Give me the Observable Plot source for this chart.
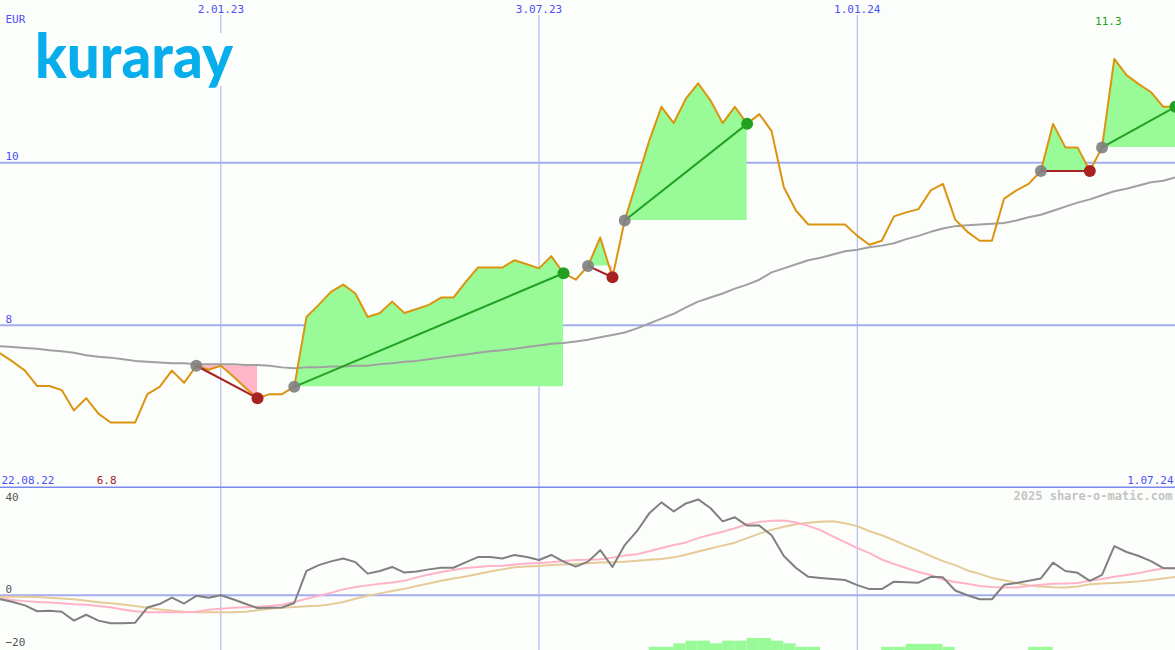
<!DOCTYPE html>
<html>
<head>
<meta charset="utf-8">
<script src="https://cdn.jsdelivr.net/npm/d3@7"></script>
<script src="https://cdn.jsdelivr.net/npm/@observablehq/plot@0.6"></script>
<style>
  html, body { margin: 0; padding: 0; background: #fbfefb; }
  #wrap { position: relative; width: 1175px; height: 650px; overflow: hidden; background: #fbfefb; }
  #wrap svg { display: block; }
  #logo { position: absolute; left: 31px; top: 33px; width: 205px; height: 53px; background: #fdfffd; }
  #logo svg { overflow: visible; }
</style>
</head>
<body>
<div id="wrap">
  <div id="charts"></div>
  <div id="logo"><svg width="205" height="53"><text x="4" y="45" textLength="198" lengthAdjust="spacingAndGlyphs" font-family="Lato, 'Open Sans', sans-serif" font-weight="900" font-size="60" fill="#08aeec">kuraray</text></svg></div>
</div>
<script>
// ---------- data (weekly, Mondays) ----------
const startDate = "2022-08-29";
const endDate = "2024-07-01";
const firstLabel = "22.08.22";
const lastLabel = "1.07.24";
const currency = "EUR";
const watermark = "2025 share-o-matic.com";

const price = [
  7.65, 7.55, 7.44, 7.25, 7.25, 7.20, 6.95, 7.10, 6.91, 6.80,
  6.80, 6.80, 7.15, 7.24, 7.44, 7.29, 7.50, 7.45, 7.50, 7.37,
  7.23, 7.10, 7.15, 7.15, 7.24, 8.10, 8.25, 8.41, 8.50, 8.39,
  8.10, 8.15, 8.29, 8.15, 8.20, 8.25, 8.34, 8.34, 8.53, 8.71,
  8.71, 8.71, 8.80, 8.75, 8.70, 8.85, 8.64, 8.56, 8.73, 9.08,
  8.59, 9.29, 9.78, 10.27, 10.69, 10.49, 10.79, 10.98, 10.77, 10.49,
  10.69, 10.48, 10.60, 10.39, 9.70, 9.41, 9.24, 9.24, 9.24, 9.24,
  9.10, 8.99, 9.04, 9.34, 9.39, 9.43, 9.66, 9.74, 9.30, 9.15,
  9.04, 9.04, 9.56, 9.66, 9.74, 9.90, 10.48, 10.19, 10.19, 9.90,
  10.19, 11.28, 11.08, 10.97, 10.87, 10.69, 10.69
];

const movingAvg = [
  7.74, 7.73, 7.72, 7.71, 7.69, 7.68, 7.66, 7.63, 7.61, 7.60,
  7.58, 7.56, 7.55, 7.54, 7.53, 7.53, 7.52, 7.52, 7.52, 7.52,
  7.51, 7.51, 7.50, 7.48, 7.47, 7.48, 7.48, 7.49, 7.49, 7.50,
  7.50, 7.52, 7.53, 7.55, 7.56, 7.58, 7.60, 7.62, 7.64, 7.66,
  7.68, 7.69, 7.71, 7.73, 7.75, 7.77, 7.78, 7.80, 7.82, 7.85,
  7.88, 7.91, 7.96, 8.02, 8.08, 8.14, 8.22, 8.29, 8.34, 8.39,
  8.45, 8.50, 8.56, 8.65, 8.70, 8.75, 8.80, 8.83, 8.87, 8.91,
  8.93, 8.96, 8.98, 9.01, 9.06, 9.10, 9.15, 9.19, 9.22, 9.23,
  9.24, 9.25, 9.26, 9.29, 9.33, 9.36, 9.41, 9.46, 9.51, 9.55,
  9.60, 9.65, 9.68, 9.72, 9.76, 9.78, 9.82
];

const oscillator = [
  -1.5, -2.5, -3.8, -6.0, -5.8, -6.2, -9.5, -7.3, -9.5, -10.5,
  -10.5, -10.3, -4.6, -3.3, -0.9, -3.1, -0.2, -0.9, 0.0, -1.5,
  -3.2, -4.8, -4.7, -4.6, -2.9, 9.1, 11.3, 12.7, 13.8, 12.4,
  8.1, 9.1, 10.6, 8.5, 8.9, 9.7, 10.3, 10.3, 12.3, 14.3,
  14.3, 13.8, 15.1, 14.3, 13.2, 15.1, 12.6, 10.7, 12.6, 16.9,
  10.6, 18.8, 24.0, 30.7, 34.8, 31.4, 34.4, 35.9, 32.7, 27.7,
  29.2, 26.1, 26.1, 22.5, 14.7, 10.2, 6.9, 6.5, 6.1, 5.7,
  3.8, 2.3, 2.3, 5.1, 4.9, 4.7, 6.9, 6.7, 1.8, 0.0,
  -1.5, -1.5, 3.9, 4.6, 5.4, 6.3, 12.2, 9.1, 8.4, 5.4,
  7.6, 18.4, 16.2, 14.7, 12.8, 10.2, 10.1
];

const oscFast = [
  -1.3, -1.8, -2.2, -2.5, -2.7, -3.0, -3.4, -3.6, -4.0, -4.5,
  -5.3, -6.0, -6.4, -6.4, -6.4, -6.4, -6.2, -5.4, -5.1, -4.7,
  -4.5, -4.3, -4.0, -3.6, -2.5, -1.3, -0.2, 0.9, 2.2, 3.1,
  3.7, 4.3, 4.8, 5.4, 6.7, 7.8, 8.7, 9.5, 10.2, 10.6,
  11.0, 11.1, 11.5, 11.9, 12.1, 12.4, 12.8, 13.2, 13.3, 13.5,
  14.1, 14.9, 15.4, 16.5, 17.7, 18.8, 19.8, 21.4, 22.7, 23.8,
  25.1, 26.6, 27.5, 27.9, 28.0, 27.3, 26.0, 24.4, 22.1, 19.9,
  17.7, 15.8, 13.4, 11.7, 10.2, 8.7, 7.6, 5.9, 5.0, 4.3,
  3.5, 3.1, 2.9, 2.9, 3.5, 3.9, 4.3, 4.4, 4.6, 5.4,
  6.1, 6.9, 7.6, 8.3, 9.3, 10.0, 10.1
];

const oscSlow = [
  -0.6, -0.6, -0.6, -0.7, -0.9, -1.2, -1.5, -2.1, -2.6, -3.0,
  -3.5, -4.0, -4.7, -5.3, -5.8, -6.2, -6.4, -6.4, -6.4, -6.4,
  -6.2, -5.6, -5.1, -4.7, -4.4, -4.1, -3.9, -3.4, -2.5, -1.3,
  -0.2, 0.7, 1.6, 2.4, 3.5, 4.4, 5.4, 6.3, 7.0, 8.0,
  8.9, 9.7, 10.5, 10.8, 11.0, 11.3, 11.5, 11.7, 12.0, 12.3,
  12.4, 12.6, 12.9, 13.3, 13.6, 14.2, 15.2, 16.4, 17.5, 18.6,
  19.7, 21.4, 23.1, 24.5, 25.7, 26.6, 27.2, 27.5, 27.7, 27.0,
  25.9, 24.0, 22.5, 20.6, 18.6, 16.7, 14.7, 12.8, 11.3, 9.3,
  8.0, 6.5, 5.6, 4.6, 3.7, 3.3, 3.0, 2.9, 3.3, 4.1,
  4.4, 4.6, 4.9, 5.2, 5.7, 6.3, 6.9
];

// signal bars at the bottom of the lower panel (week index, height)
const barWeek   = [53, 54, 55, 56, 57, 58, 59, 60, 61, 62, 63, 64, 65, 66, 72, 73, 74, 75, 76, 77, 84, 85];
const barHeight = [1.2, 1.2, 2.5, 3.5, 3.5, 2.5, 3.5, 3.5, 4.5, 4.5, 3.5, 2.5, 1.2, 1.2, 1.2, 1.2, 2.3, 2.3, 2.3, 1.2, 1.2, 1.2];

// trades (week indices of entry and exit)
const tradeEntry = [16, 24, 48, 51, 85, 90];
const tradeExit  = [21, 46, 50, 61, 89, 96];

// axis ticks
const xTickDates  = ["2023-01-02", "2023-07-03", "2024-01-01"];
const xTickLabels = ["2.01.23", "3.07.23", "1.01.24"];
const yTicksTop = [8, 10];
const yTicksLow = [0, -20];
const yTicksLowTop = [40];

// ---------- colours ----------
const GRID = "#a4acf0";
const DIVIDER = "#7a88ee";
const BLUE_TXT = "#4d50f5";
const PRICE = "#dc9410";
const MA = "#a0a0a0";
const GREEN_FILL = "#98fb98";
const PINK_FILL = "#ffb6c6";
const WIN = "#22a022";
const LOSS = "#a82222";
const FONT = "DejaVu Sans Mono, monospace";

// ---------- derived ----------
const dates = d3.utcMonday.range(new Date(startDate), d3.utcDay.offset(new Date(endDate), 1));
const weeks = price.map((p, i) => ({date: dates[i], price: p, ma: movingAvg[i], osc: oscillator[i], fast: oscFast[i], slow: oscSlow[i]}));
const tickDates = xTickDates.map(d => new Date(d));
const tickLabelOf = new Map(tickDates.map((d, i) => [+d, xTickLabels[i]]));

const trades = tradeEntry.map((e, k) => {
  const x = tradeExit[k];
  return {id: k, entry: e, exit: x, d1: dates[e], p1: price[e], d2: dates[x], p2: price[x], win: price[x] > price[e]};
});

const fills = [];
for (const t of trades) {
  const base = t.p1;
  for (let i = t.entry; i <= t.exit; i++) {
    if (i > t.entry) {
      const a = price[i - 1] - base, b = price[i] - base;
      if (a * b < 0) {
        const f = a / (a - b);
        fills.push({id: t.id, date: new Date(+dates[i - 1] + f * (dates[i] - dates[i - 1])), base, v: base});
      }
    }
    fills.push({id: t.id, date: dates[i], base, v: price[i]});
  }
}
fills.forEach(p => { p.up = Math.max(p.v, p.base); p.down = Math.min(p.v, p.base); });

const bars = barWeek.map((w, k) => ({x1: dates[w], x2: dates[w + 1], h: barHeight[k]}));

const minVal = d3.min(price), maxVal = d3.max(price);
const minIdx = price.indexOf(minVal), maxIdx = price.indexOf(maxVal);

const LOW_MIN = -20.7, LOW_MAX = 40;
const xDomain = [new Date(startDate), new Date(endDate)];
const txt = {fontSize: 11, fontFamily: FONT};

// ---------- upper panel ----------
const upper = Plot.plot({
  width: 1175, height: 488,
  marginTop: 0, marginBottom: 1, marginLeft: 0, marginRight: 0,
  style: {background: "transparent", fontFamily: FONT},
  x: {type: "utc", domain: xDomain, axis: null},
  y: {domain: [6, 12], axis: null},
  marks: [
    Plot.ruleY(yTicksTop, {stroke: GRID, strokeWidth: 2}),
    Plot.ruleX(tickDates, {stroke: GRID, strokeWidth: 1, insetTop: 15}),
    Plot.areaY(fills, {x: "date", y1: "base", y2: "up", z: "id", fill: GREEN_FILL}),
    Plot.areaY(fills, {x: "date", y1: "base", y2: "down", z: "id", fill: PINK_FILL}),
    Plot.line(weeks, {x: "date", y: "ma", stroke: MA, strokeWidth: 2}),
    Plot.line(weeks, {x: "date", y: "price", stroke: PRICE, strokeWidth: 2}),
    Plot.link(trades, {x1: "d1", y1: "p1", x2: "d2", y2: "p2", stroke: d => d.win ? WIN : LOSS, strokeWidth: 2}),
    Plot.dot(trades, {x: "d1", y: "p1", r: 6, fill: "#808080", fillOpacity: 0.9}),
    Plot.dot(trades, {x: "d2", y: "p2", r: 6, fill: d => d.win ? WIN : LOSS}),
    Plot.ruleY([6], {stroke: DIVIDER, strokeWidth: 2}),
    Plot.axisX(tickDates, {anchor: "top", tickSize: 0, tickPadding: -12, tickFormat: d => tickLabelOf.get(+d), fill: BLUE_TXT, ...txt}),
    Plot.axisY(yTicksTop, {anchor: "left", tickSize: 0, tickPadding: -5, textAnchor: "start", dy: -6, tickFormat: d3.format("d"), fill: BLUE_TXT, ...txt}),
    Plot.text([currency], {frameAnchor: "top-left", dx: 5, dy: 15, textAnchor: "start", fill: BLUE_TXT, ...txt}),
    Plot.text([firstLabel], {frameAnchor: "bottom-left", dx: 1, dy: -4, textAnchor: "start", fill: BLUE_TXT, ...txt}),
    Plot.text([lastLabel], {frameAnchor: "bottom-right", dx: -2, dy: -4, textAnchor: "end", fill: BLUE_TXT, ...txt}),
    Plot.text([{d: dates[minIdx], t: minVal.toFixed(1)}], {x: "d", text: "t", frameAnchor: "bottom", dx: -4, dy: -4, fill: LOSS, ...txt}),
    Plot.text([{d: dates[maxIdx], t: maxVal.toFixed(1)}], {x: "d", text: "t", frameAnchor: "top", dx: -6, dy: 17, fill: WIN, ...txt})
  ]
});

// ---------- lower panel ----------
const lower = Plot.plot({
  width: 1175, height: 162,
  marginTop: 0, marginBottom: 0, marginLeft: 0, marginRight: 0,
  style: {background: "transparent", fontFamily: FONT},
  x: {type: "utc", domain: xDomain, axis: null},
  y: {domain: [LOW_MIN, LOW_MAX], axis: null},
  marks: [
    Plot.ruleX(tickDates, {stroke: GRID, strokeWidth: 1}),
    Plot.ruleY([0], {stroke: GRID, strokeWidth: 2}),
    Plot.rect(bars, {x1: "x1", x2: "x2", y1: LOW_MIN, y2: d => LOW_MIN + d.h, fill: GREEN_FILL}),
    Plot.line(weeks, {x: "date", y: "slow", stroke: "#e6cb98", strokeWidth: 2}),
    Plot.line(weeks, {x: "date", y: "fast", stroke: "#ffb3c8", strokeWidth: 2}),
    Plot.line(weeks, {x: "date", y: "osc", stroke: "#808080", strokeWidth: 2}),
    Plot.axisY(yTicksLow, {anchor: "left", tickSize: 0, tickPadding: -5, textAnchor: "start", dy: -6, fill: "#555", ...txt}),
    Plot.axisY(yTicksLowTop, {anchor: "left", tickSize: 0, tickPadding: -5, textAnchor: "start", dy: 9, fill: "#555", ...txt}),
    Plot.text([watermark], {frameAnchor: "top-right", dx: -3, dy: 3, textAnchor: "end", fill: "#c4c4c4", fontSize: 12, fontWeight: "bold", fontFamily: FONT})
  ]
});

const host = document.getElementById("charts");
host.appendChild(upper);
host.appendChild(lower);
</script>
</body>
</html>
